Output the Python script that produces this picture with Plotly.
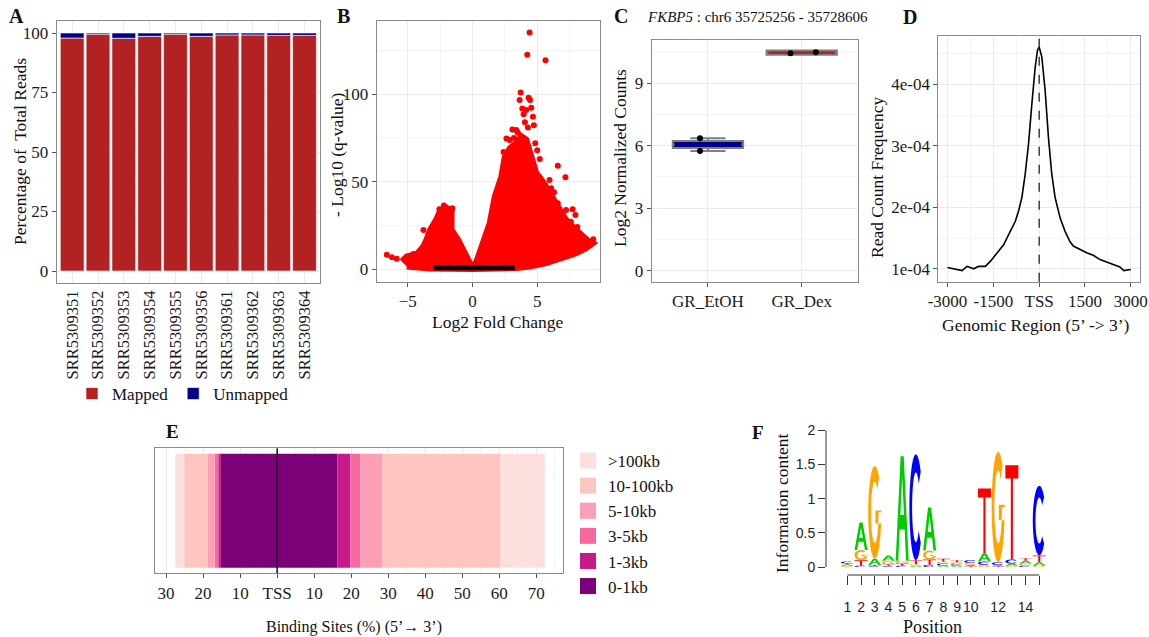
import math
import plotly.graph_objects as go

W, H = 1149, 637
SERIF = "Liberation Serif"
SANS = "Liberation Sans"

# ---------------- data ----------------
# A: mapping rates
samples = ["SRR5309351", "SRR5309352", "SRR5309353", "SRR5309354", "SRR5309355",
           "SRR5309356", "SRR5309361", "SRR5309362", "SRR5309363", "SRR5309364"]
mapped_pct = [97.9, 99.5, 97.8, 98.6, 99.5, 98.6, 99.2, 99.2, 99.0, 99.0]
unmapped_pct = [2.1, 0.5, 2.2, 1.4, 0.5, 1.4, 0.8, 0.8, 1.0, 1.0]

# B: volcano (dense significant cloud outline, isolated points, non-significant band)
sig_cloud_lfc = [-5.46, -5.08, -4.3, -3.8, -3.54, -3.28, -2.82, -2.51, -2.13, -1.62, -1.62, -1.1,
                 -0.72, -0.33, 0.0, 0.31, 0.82, 1.33, 1.72, 2.23, 2.49, 2.87, 3.38, 3.77, 4.15,
                 4.41, 4.67, 4.92, 5.44, 5.82, 6.2, 6.72, 7.23, 8.0, 8.64, 9.0, 9.28, 8.77, 8.0,
                 6.97, 5.69, 4.41, 3.38, 0.0, -3.28, -5.08]
sig_cloud_q = [4.4, 7.2, 8.7, 12.9, 17.1, 22.4, 28.1, 33.0, 35.5, 33.5, 22.4, 16.7,
               11.0, 4.4, 0.6, 4.4, 16.7, 26.2, 41.4, 52.9, 64.0, 69.0, 72.0, 76.0, 74.0,
               68.0, 60.0, 55.0, 50.0, 45.2, 41.4, 33.8, 28.1, 22.4, 17.7, 15.8, 14.8, 12.0, 9.1,
               6.3, 3.4, 1.5, 0.6, 0.0, 0.4, 1.5]
sig_point_lfc = [4.41, 4.23, 5.64, 3.72, 4.33, 4.44, 3.64, 3.85, 4.15, 4.54, 4.67, 4.74, 4.28,
                 3.08, 3.38, 2.87, 2.62, 5.0, 6.59, 7.18, 5.95, 5.44, 6.15, 6.59, 7.23, 7.74,
                 7.95, 6.08, 9.33, -2.21, -2.56, -1.56, -3.79, -3.28, -6.62, -6.23, -5.85,
                 -4.56, 3.95, 4.05, 3.5, 5.2, 4.85, 6.3, 7.6, 8.1, 7.7, 8.3, 2.4, 3.2, 5.6]
sig_point_q = [135.2, 122.6, 119.4, 101.0, 97.9, 96.6, 96.6, 91.8, 90.9, 92.2, 87.1, 82.3, 81.0,
               79.8, 79.5, 73.8, 74.7, 68.0, 59.1, 52.5, 51.0, 43.3, 39.5, 37.6, 33.8, 34.2,
               31.0, 46.2, 17.1, 36.3, 34.2, 34.8, 22.4, 16.3, 8.2, 6.8, 5.9,
               8.7, 88.5, 84.0, 78.0, 63.0, 72.0, 44.0, 27.0, 24.0, 21.5, 19.0, 67.0, 75.0, 48.0]
ns_band_lfc = [-3.0, 3.15, 3.15, -3.0]
ns_band_q = [0.2, 0.2, 1.2, 1.2]

# C: FKBP5 normalized counts
c_groups = ["GR_EtOH", "GR_Dex"]
c_q1 = [5.88, 10.36]
c_median = [6.05, 10.46]
c_q3 = [6.22, 10.57]
c_min = [5.74, 10.43]
c_max = [6.35, 10.48]
c_point_group = [0, 0, 1, 1]
c_point_jitter = [-0.085, -0.085, -0.12, 0.15]
c_point_value = [6.35, 5.74, 10.43, 10.48]

# D: read count frequency around TSS
d_pos = [-3000, -2793, -2522, -2359, -2141, -1978, -1761, -1598, -1380, -1163, -946, -783,
         -674, -565, -457, -348, -239, -130, -54, 0, 87, 196, 304, 413, 522, 685, 848, 1011,
         1120, 1337, 1554, 1772, 1989, 2207, 2424, 2641, 2772, 2913, 3000]
d_freq = [1.02e-4, 1.00e-4, 0.97e-4, 1.04e-4, 1.00e-4, 1.04e-4, 1.04e-4, 1.12e-4, 1.26e-4,
          1.39e-4, 1.61e-4, 1.77e-4, 1.94e-4, 2.16e-4, 2.54e-4, 3.03e-4, 3.68e-4, 4.28e-4,
          4.56e-4, 4.61e-4, 4.45e-4, 3.90e-4, 3.14e-4, 2.54e-4, 2.16e-4, 1.83e-4, 1.61e-4,
          1.44e-4, 1.37e-4, 1.31e-4, 1.26e-4, 1.22e-4, 1.15e-4, 1.11e-4, 1.07e-4, 1.03e-4,
          0.97e-4, 0.98e-4, 0.99e-4]

# E: distance of binding sites to TSS
e_classes = ["0-1kb", "1-3kb", "3-5kb", "5-10kb", "10-100kb", ">100kb"]
e_colors = ["#7A0177", "#C51B8A", "#F768A1", "#FA9FB5", "#FCC5C0", "#FDE0DD"]
e_upstream = [15.2, 0.7, 1.0, 1.8, 6.4, 2.4]
e_downstream = [16.3, 3.5, 2.6, 6.1, 31.7, 12.1]
e_ticks = [-30, -20, -10, 0, 10, 20, 30, 40, 50, 60, 70]
e_ticklabels = ["30", "20", "10", "TSS", "10", "20", "30", "40", "50", "60", "70"]

# F: motif logo (bits per base per position)
f_positions = list(range(1, 16))
logo_A = [0.02, 0.40, 0.09, 0.08, 1.53, 0.02, 0.63, 0.02, 0.02, 0.02, 0.12, 0.02, 0.03, 0.04, 0.05]
logo_C = [0.025, 0.02, 0.01, 0.01, 0.02, 1.55, 0.03, 0.03, 0.02, 0.04, 0.05, 0.04, 0.06, 0.02, 1.02]
logo_G = [0.015, 0.15, 1.36, 0.05, 0.04, 0.02, 0.13, 0.03, 0.03, 0.03, 0.03, 1.62, 0.02, 0.03, 0.02]
logo_T = [0.02, 0.08, 0.02, 0.03, 0.03, 0.06, 0.08, 0.04, 0.03, 0.01, 0.95, 0.01, 1.38, 0.04, 0.10]
f_ticklabels = ["1", "2", "3", "4", "5", "6", "7", "8", "9", "10", "", "12", "", "14", ""]

# ---------------- helpers ----------------
def dx(a, b):
    return [a / W, b / W]

def dy(top, bottom):
    return [1 - bottom / H, 1 - top / H]

TICKFONT = dict(family=SERIF, size=17, color="#1a1a1a")

def gg_axis(**kw):
    base = dict(showline=True, linecolor="#8a8a8a", linewidth=1, mirror=True,
                showgrid=True, gridcolor="#EBEBEB", gridwidth=1, zeroline=False,
                ticks="outside", ticklen=4, tickcolor="#555555", tickwidth=1,
                tickfont=TICKFONT, automargin=False)
    base.update(kw)
    return base

def minor(dtick, tick0=0):
    return dict(dtick=dtick, tick0=tick0, showgrid=True, gridcolor="#F5F5F5", gridwidth=0.6, ticks="")

fig = go.Figure()

# ---------------- A ----------------
fig.add_trace(go.Bar(x=samples, y=mapped_pct, name="Mapped", marker=dict(color="#B22222", line=dict(color="white", width=0.6)),
                     width=0.92, xaxis="x", yaxis="y", legend="legend", showlegend=True))
fig.add_trace(go.Bar(x=samples, y=unmapped_pct, name="Unmapped", marker=dict(color="#00008B", line=dict(color="white", width=0.6)),
                     width=0.92, xaxis="x", yaxis="y", legend="legend", showlegend=True))

# ---------------- B ----------------
fig.add_trace(go.Scatter(x=sig_cloud_lfc, y=sig_cloud_q, mode="lines", fill="toself", fillcolor="#FF0000",
                         line=dict(color="#FF0000", width=6), xaxis="x2", yaxis="y2", showlegend=False, hoverinfo="skip"))
fig.add_trace(go.Scatter(x=sig_point_lfc, y=sig_point_q, mode="markers", marker=dict(color="#FF0000", size=6),
                         xaxis="x2", yaxis="y2", showlegend=False))
fig.add_trace(go.Scatter(x=ns_band_lfc, y=ns_band_q, mode="lines", fill="toself", fillcolor="#000000",
                         line=dict(color="#000000", width=3), xaxis="x2", yaxis="y2", showlegend=False, hoverinfo="skip"))

# ---------------- C ----------------
c_fill = ["#00008B", "#B22222"]
c_box_w = 0.75
for i in range(2):
    fig.add_trace(go.Box(x=[i], q1=[c_q1[i]], median=[c_median[i]], q3=[c_q3[i]],
                         lowerfence=[c_min[i]], upperfence=[c_max[i]], width=c_box_w,
                         fillcolor=c_fill[i], line=dict(color="#7f7f7f", width=2),
                         xaxis="x3", yaxis="y3", showlegend=False, boxpoints=False))
    # coloured median band over the box
    fig.add_trace(go.Scatter(x=[i - c_box_w / 2 + 0.02, i + c_box_w / 2 - 0.02], y=[c_median[i], c_median[i]],
                             mode="lines", line=dict(color=c_fill[i], width=4 if i == 0 else 2.6),
                             xaxis="x3", yaxis="y3", showlegend=False, hoverinfo="skip"))
fig.add_trace(go.Scatter(x=[g + j for g, j in zip(c_point_group, c_point_jitter)], y=c_point_value,
                         mode="markers", marker=dict(color="black", size=6), xaxis="x3", yaxis="y3", showlegend=False))

# ---------------- D ----------------
fig.add_trace(go.Scatter(x=d_pos, y=d_freq, mode="lines", line=dict(color="black", width=1.6),
                         xaxis="x4", yaxis="y4", showlegend=False))

# ---------------- E ----------------
for cls, col, up, down in zip(e_classes, e_colors, e_upstream, e_downstream):
    fig.add_trace(go.Bar(x=[-up], y=[1], orientation="h", width=1.0, marker=dict(color=col, line=dict(width=0)),
                         xaxis="x5", yaxis="y5", showlegend=False, name=cls))
    fig.add_trace(go.Bar(x=[down], y=[1], orientation="h", width=1.0, marker=dict(color=col, line=dict(width=0)),
                         xaxis="x5", yaxis="y5", showlegend=False, name=cls))
for cls, col in reversed(list(zip(e_classes, e_colors))):
    fig.add_trace(go.Scatter(x=[None], y=[None], mode="markers", name=cls,
                             marker=dict(symbol="square", size=18, color=col),
                             xaxis="x5", yaxis="y5", legend="legend2", showlegend=True))

# ---------------- F (logo shapes) ----------------
def arc(cx, cy, rx, ry, a0, a1, n=28):
    return [(cx + rx * math.cos(math.radians(a0 + (a1 - a0) * k / n)),
             cy + ry * math.sin(math.radians(a0 + (a1 - a0) * k / n))) for k in range(n + 1)]

GLYPHS = {
    "T": [[(0, 1), (1, 1), (1, 0.86), (0.58, 0.86), (0.58, 0), (0.42, 0), (0.42, 0.86), (0, 0.86)]],
    "A": [[(0, 0), (0.38, 1), (0.62, 1), (1, 0), (0.8, 0), (0.69, 0.3), (0.31, 0.3), (0.2, 0)],
          [(0.36, 0.44), (0.64, 0.44), (0.5, 0.8)]],
    "C": [arc(0.5, 0.5, 0.5, 0.5, 42, 318) + arc(0.5, 0.5, 0.29, 0.33, 318, 42)],
    "G": [arc(0.5, 0.5, 0.5, 0.5, 48, 360) + arc(0.5, 0.5, 0.29, 0.33, 360, 48),
          [(0.55, 0.38), (1.0, 0.38), (1.0, 0.52), (0.55, 0.52)]],
}
BASE_COL = {"A": "#00CC00", "C": "#0000FF", "G": "#FFA500", "T": "#FF0000"}

shapes = []
letter_w = 0.95
for i, pos in enumerate(f_positions):
    stack = sorted([("A", logo_A[i]), ("C", logo_C[i]), ("G", logo_G[i]), ("T", logo_T[i])], key=lambda t: t[1])
    y0 = 0.0
    for base, h in stack:
        x0 = pos - letter_w / 2
        parts = []
        for poly in GLYPHS[base]:
            pts = ["{:.4f},{:.5f}".format(x0 + u * letter_w, y0 + v * h) for u, v in poly]
            parts.append("M" + " L".join(pts) + " Z")
        shapes.append(dict(type="path", path=" ".join(parts), xref="x6", yref="y6",
                           fillcolor=BASE_COL[base], line=dict(width=0), layer="above"))
        y0 += h
# invisible trace to anchor axis 6
fig.add_trace(go.Scatter(x=f_positions, y=[0] * 15, mode="markers", marker=dict(size=1, opacity=0),
                         xaxis="x6", yaxis="y6", showlegend=False, hoverinfo="skip"))
# F axis lines (R base style)
shapes.append(dict(type="line", xref="x6 domain", yref="y6", x0=0, x1=0, y0=0, y1=2, line=dict(color="#333", width=1)))
shapes.append(dict(type="line", xref="x6", yref="y6 domain", x0=1, x1=15, y0=0, y1=0, line=dict(color="#333", width=1)))
# D dashed TSS line, E TSS line
shapes.append(dict(type="line", xref="x4", yref="y4 domain", x0=0, x1=0, y0=0, y1=1,
                   line=dict(color="#111", width=1.2, dash="dash")))
shapes.append(dict(type="line", xref="x5", yref="y5 domain", x0=0, x1=0, y0=0, y1=1,
                   line=dict(color="#111", width=1.5)))

# ---------------- annotations ----------------
def ann(text, x, y, size=17, angle=0, bold=False, xanchor="center", family=SERIF):
    return dict(text=("<b>%s</b>" % text) if bold else text, x=x / W, y=1 - y / H, xref="paper", yref="paper",
                showarrow=False, textangle=angle, xanchor=xanchor, yanchor="middle",
                font=dict(family=family, size=size, color="#111"))

annotations = [
    ann("A", 16, 16, 20, bold=True), ann("B", 343, 16, 20, bold=True), ann("C", 621, 16, 20, bold=True),
    ann("D", 910, 17, 20, bold=True), ann("E", 172, 431, 19, bold=True), ann("F", 758, 432, 19, bold=True),
    ann("Percentage of  Total Reads", 20, 152, 17.5, angle=-90),
    ann("- Log10 (q-value)", 337, 155, 17.5, angle=-90),
    ann("Log2 Fold Change", 497, 322, 17.5),
    ann("<i>FKBP5</i> : chr6 35725256 - 35728606", 645, 17, 15, xanchor="left"),
    ann("Log2 Normalized Counts", 620, 158, 17.5, angle=-90),
    ann("Read Count Frequency", 877, 177, 17.5, angle=-90),
    ann("Genomic Region (5’ -> 3’)", 1036, 325, 17.5),
    ann("Binding Sites (%) (5’→ 3’)", 354, 627, 16),
    ann("Information content", 782, 503, 17.5, angle=-90),
    ann("Position", 932, 627, 18),
]

fig.update_layout(
    width=W, height=H, margin=dict(l=0, r=0, t=0, b=0, autoexpand=False),
    paper_bgcolor="white", plot_bgcolor="white", barmode="relative",
    font=dict(family=SERIF, size=17, color="#111"),
    shapes=shapes, annotations=annotations,
    legend=dict(orientation="h", x=72 / W, y=1 - 376 / H, xanchor="left", yanchor="top",
                font=dict(family=SERIF, size=17), bgcolor="rgba(0,0,0,0)", traceorder="normal"),
    legend2=dict(x=568 / W, y=1 - 443 / H, xanchor="left", yanchor="top", itemsizing="trace",
                 font=dict(family=SERIF, size=17), bgcolor="rgba(0,0,0,0)", traceorder="normal"),
    # A
    xaxis=gg_axis(domain=dx(56.7, 320), anchor="y", range=[-0.6, 9.6], tickangle=-90, type="category",
                  ticks="", tickfont=dict(family=SERIF, size=16.5, color="#1a1a1a")),
    yaxis=gg_axis(domain=dy(21.1, 282.9), anchor="x", range=[-5, 105], tickvals=[0, 25, 50, 75, 100],
                  minor=minor(12.5, 12.5)),
    # B
    xaxis2=gg_axis(domain=dx(376.7, 600), anchor="y2", range=[-7.4, 9.85], tickvals=[-5, 0, 5], minor=minor(2.5, 2.5)),
    yaxis2=gg_axis(domain=dy(20.7, 281.7), anchor="x2", range=[-7.2, 142], tickvals=[0, 50, 100], minor=minor(25, 25)),
    # C
    xaxis3=gg_axis(domain=dx(651.7, 858), anchor="y3", range=[-0.6, 1.6], tickvals=[0, 1], ticktext=c_groups),
    yaxis3=gg_axis(domain=dy(40, 282), anchor="x3", range=[-0.55, 11.07], tickvals=[0, 3, 6, 9], minor=minor(1.5, 1.5)),
    # D
    xaxis4=gg_axis(domain=dx(938.3, 1140), anchor="y4", range=[-3300, 3300],
                   tickvals=[-3000, -1500, 0, 1500, 3000], ticktext=["-3000", "-1500", "TSS", "1500", "3000"],
                   minor=minor(750, -2250)),
    yaxis4=gg_axis(domain=dy(36, 281.7), anchor="x4", range=[0.79e-4, 4.79e-4],
                   tickvals=[1e-4, 2e-4, 3e-4, 4e-4], ticktext=["1e-04", "2e-04", "3e-04", "4e-04"],
                   minor=minor(0.5e-4, 0.5e-4)),
    # E
    xaxis5=gg_axis(domain=dx(155, 563.3), anchor="y5", range=[-33, 77.3], tickvals=e_ticks, ticktext=e_ticklabels,
                   minor=minor(5, 5)),
    yaxis5=gg_axis(domain=dy(448.3, 573.3), anchor="x5", range=[0.452, 1.548], showticklabels=False, ticks="",
                   showgrid=False),
    # F
    xaxis6=dict(domain=dx(826, 1053), anchor="y6", range=[-0.555, 16.0], showline=False, showgrid=False,
                zeroline=False, tickvals=f_positions, ticktext=f_ticklabels, ticks="outside", ticklen=9,
                tickcolor="#333", tickangle=0, automargin=False,
                tickfont=dict(family=SANS, size=14, color="#222"), ticklabelstandoff=10),
    yaxis6=dict(domain=dy(427, 575), anchor="x6", range=[-0.117, 2.05], showline=False, showgrid=False,
                zeroline=False, tickvals=[0, 0.5, 1, 1.5, 2], ticktext=["0", "0.5", "1", "1.5", "2"],
                ticks="outside", ticklen=7, tickcolor="#333", automargin=False,
                tickfont=dict(family=SANS, size=14, color="#222")),
)

fig.write_html("out.html", config={"displayModeBar": False},
               post_script="document.body.style.margin='0';document.body.style.overflow='hidden';")
